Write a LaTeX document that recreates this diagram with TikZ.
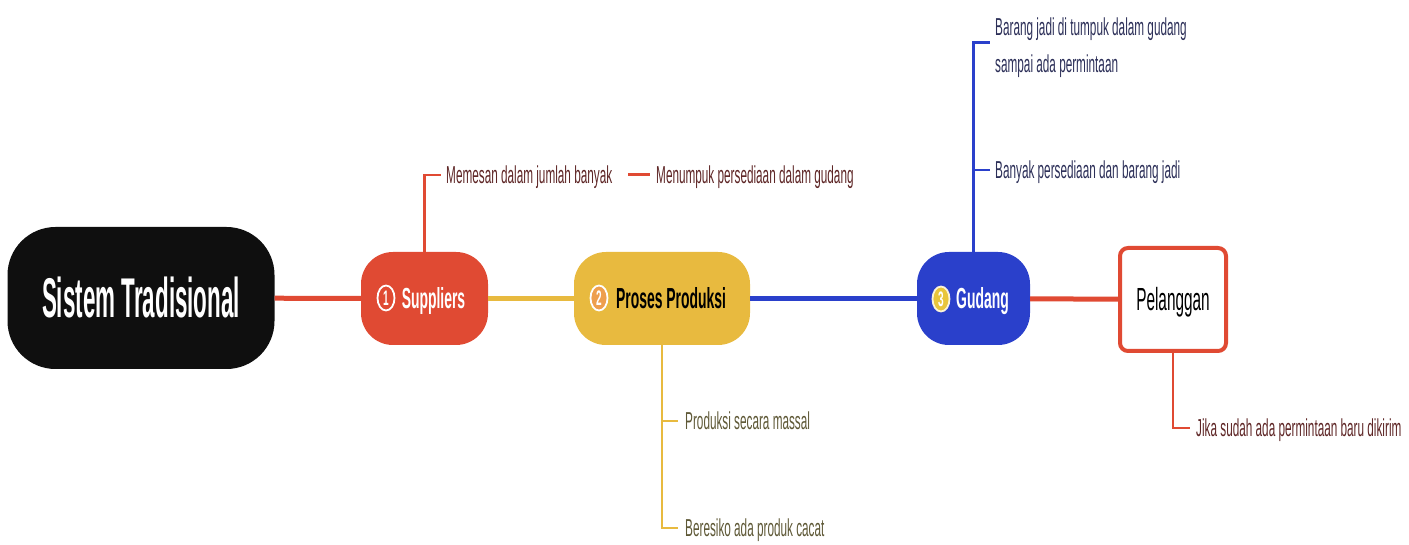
\documentclass[tikz,border=0pt]{standalone}
\usepackage{fontspec}
\setmainfont{Liberation Sans}[FakeStretch=0.48]
\newfontfamily\titlefont{Liberation Sans}[FakeStretch=0.40]
\usepackage{tikz}
\usetikzlibrary{shapes.geometric}
\definecolor{mapred}{HTML}{E04A33}
\definecolor{mapyellow}{HTML}{E8BA3F}
\definecolor{mapblue}{HTML}{2A40CB}
\definecolor{maproot}{HTML}{0F0F0F}
\definecolor{redtext}{HTML}{5E2626}
\definecolor{yellowtext}{HTML}{5E5836}
\definecolor{bluetext}{HTML}{2C2F58}
\definecolor{badgeorange}{HTML}{EE9F4D}
\definecolor{badgeyellow}{HTML}{E8C53B}
\newcommand{\leafsize}{\fontsize{24.5}{37}\selectfont}

\begin{document}
\begin{tikzpicture}[x=1pt, y=-1pt,
  topic/.style={rectangle, rounded corners=32pt, minimum height=93pt, inner sep=0pt,
    text height=21pt, text depth=0pt, font=\fontsize{29}{34}\selectfont\bfseries},
  badge/.style={ellipse, draw=white, line width=1.8pt, minimum width=17pt, minimum height=25pt,
    inner sep=0pt, text=white, font=\fontsize{21}{21}\selectfont\bfseries},
  leaf/.style={anchor=west, inner sep=0pt, font=\leafsize},
  oneline/.style={leaf, text height=17pt, text depth=0pt},
  trunk/.style={line width=5pt},
  twig/.style={line width=2.5pt}]
  \useasboundingbox (0,0) rectangle (1409,545);

  % main topics
  \node[rectangle, rounded corners=48pt, fill=maproot, minimum width=267pt, minimum height=142pt,
    text=white, text height=40pt, text depth=0pt,
    font=\titlefont\fontsize{56}{60}\selectfont\bfseries] (root) at (141,298) {Sistem Tradisional};
  \node[topic, fill=mapred, minimum width=127pt, text=white] (sup) at (424.5,298.5) {\hspace*{18pt}Suppliers};
  \node[topic, fill=mapyellow, minimum width=176pt, text=black] (pro) at (662,298.5) {\hspace*{18pt}Proses Produksi};
  \node[topic, fill=mapblue, minimum width=113pt, text=white] (gud) at (973.5,298.5) {\hspace*{18pt}Gudang};
  \node[rectangle, rounded corners=8pt, draw=mapred, line width=4pt, fill=white,
    minimum width=106pt, minimum height=103pt, inner sep=0pt, text height=23pt, text depth=0pt,
    font=\fontsize{32}{36}\selectfont] (pel) at (1173,299.5) {Pelanggan};

  % numbers
  \node[badge, fill=mapred] (n1) at (386,298) {1};
  \node[badge, fill=badgeorange] (n2) at (599,298) {2};
  \node[badge, fill=badgeyellow, draw=white!80!badgeyellow] (n3) at (941,299) {3};

  % trunk
  \foreach \a/\b/\c in {root/sup/mapred, sup/pro/mapyellow, pro/gud/mapblue, gud/pel/mapred}
    \draw[trunk, \c] (\a) -- (\b);

  % suppliers
  \node[oneline, text=redtext] (m1) at (446,175) {Memesan dalam jumlah banyak};
  \node[oneline, text=redtext] (m2) at (656,175) {Menumpuk persediaan dalam gudang};
  \draw[twig, mapred] (sup.north) |- ([xshift=-5pt]m1.west);
  \draw[mapred, line width=3pt, shorten <=16pt, shorten >=6pt] (m1.east) -- (m2.west);

  % proses produksi
  \node[oneline, text=yellowtext] (p1) at (685,421) {Produksi secara massal};
  \node[oneline, text=yellowtext] (p2) at (685,528) {Beresiko ada produk cacat};
  \draw[twig, mapyellow] (pro.south) |- ([xshift=-7pt]p1.west);
  \draw[twig, mapyellow] (pro.south) |- ([xshift=-7pt]p2.west);

  % gudang
  \node[leaf, anchor=north west, align=left, text=bluetext] (g1) at (995,17.5)
    {Barang jadi di tumpuk dalam gudang\\ sampai ada permintaan};
  \node[oneline, text=bluetext] (g2) at (995,170) {Banyak persediaan dan barang jadi};
  \draw[twig, mapblue] (gud.north) |- ([xshift=-5pt, yshift=5pt]g1.west);
  \draw[twig, mapblue] (gud.north) |- ([xshift=-5pt]g2.west);

  % pelanggan
  \node[oneline, text=redtext] (c1) at (1196,428) {Jika sudah ada permintaan baru dikirim};
  \draw[twig, mapred] (pel.south) |- ([xshift=-6pt]c1.west);
\end{tikzpicture}
\end{document}
